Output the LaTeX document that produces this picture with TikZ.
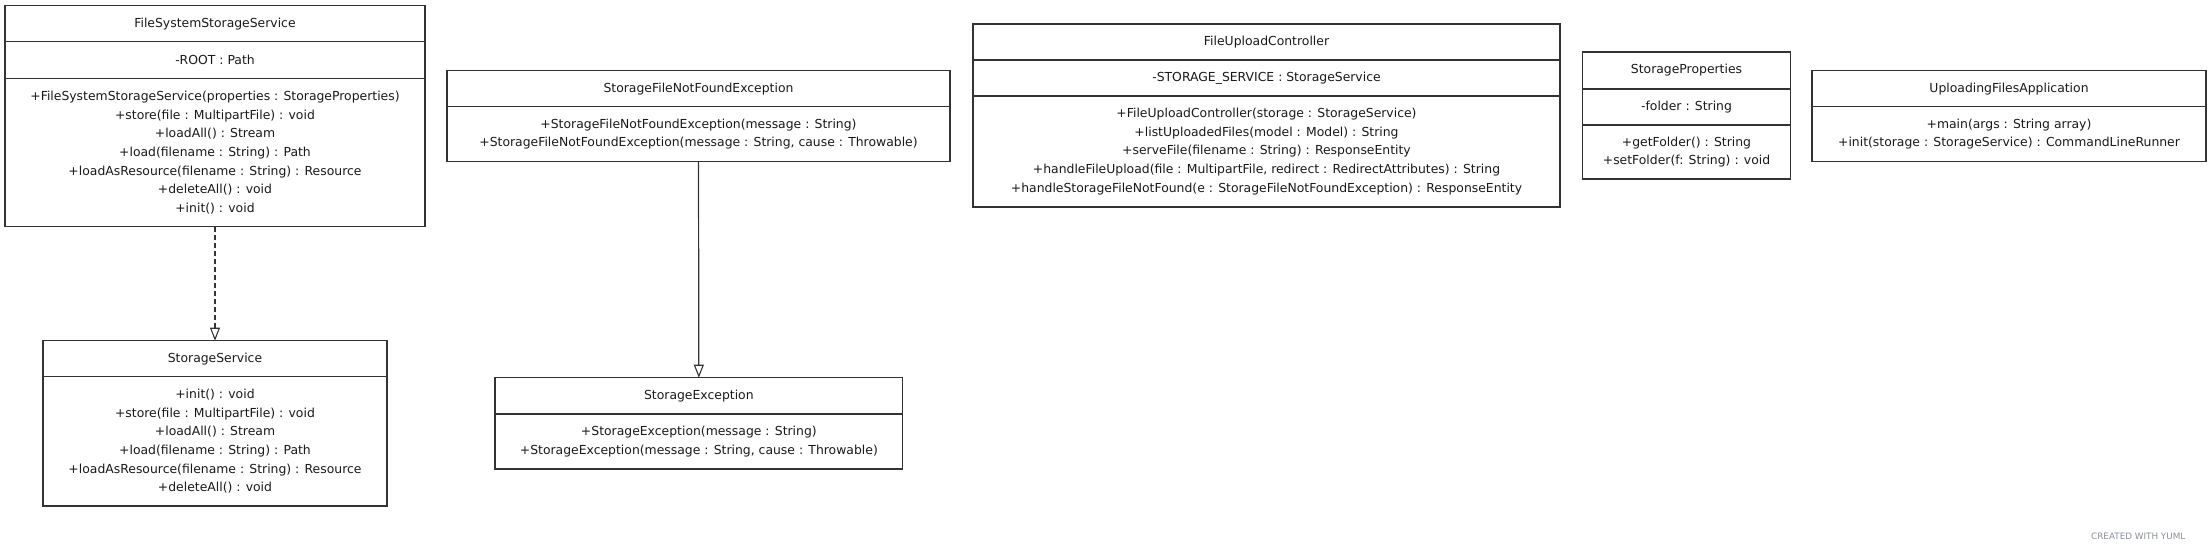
\documentclass[tikz,border=0pt]{standalone}
\usepackage{fontspec}
\setmainfont{DejaVu Sans}
\usetikzlibrary{arrows.meta}
\definecolor{linec}{HTML}{333333}
\definecolor{textc}{HTML}{1A1A1A}
\definecolor{markc}{HTML}{8A8F99}
\tikzset{
  comp/.style={draw=linec, line width=1.3pt, anchor=north west, inner sep=0pt, outer sep=0pt,
    align=center, text=textc, font=\fontsize{12.4}{18.67}\selectfont},
  gen/.style={draw=linec, line width=1.2pt, -{Triangle[open, length=13pt, width=10pt, line width=1.1pt]}},
  real/.style={gen, dash pattern=on 5pt off 3pt}
}
\begin{document}
\begin{tikzpicture}[x=1pt, y=-1pt]
\useasboundingbox[fill=white] (0,0) rectangle (2211,550);
% FileSystemStorageService
\node[comp, minimum width=420pt, minimum height=36pt] (fssT) at (5,5.7) {FileSystemStorageService};
\node[comp, minimum width=420pt, minimum height=36.6pt] (fssA) at (5,41.7) {-ROOT : Path};
\node[comp, minimum width=420pt, minimum height=148.4pt] (fssM) at (5,78.3) {+FileSystemStorageService(properties : StorageProperties)\\+store(file : MultipartFile) : void\\+loadAll() : Stream\\+load(filename : String) : Path\\+loadAsResource(filename : String) : Resource\\+deleteAll() : void\\+init() : void};
% StorageService
\node[comp, minimum width=344pt, minimum height=36pt] (ssT) at (43,340.7) {StorageService};
\node[comp, minimum width=344pt, minimum height=129.3pt] (ssM) at (43,376.7) {+init() : void\\+store(file : MultipartFile) : void\\+loadAll() : Stream\\+load(filename : String) : Path\\+loadAsResource(filename : String) : Resource\\+deleteAll() : void};
% StorageFileNotFoundException
\node[comp, minimum width=503pt, minimum height=36pt] (sfT) at (447,70.7) {StorageFileNotFoundException};
\node[comp, minimum width=503pt, minimum height=55pt] (sfM) at (447,106.7) {+StorageFileNotFoundException(message : String)\\+StorageFileNotFoundException(message : String, cause : Throwable)};
% StorageException
\node[comp, minimum width=407.7pt, minimum height=36.3pt] (seT) at (495,377.7) {StorageException};
\node[comp, minimum width=407.7pt, minimum height=55pt] (seM) at (495,414) {+StorageException(message : String)\\+StorageException(message : String, cause : Throwable)};
% FileUploadController
\node[comp, minimum width=587pt, minimum height=36pt] (fuT) at (973,24) {FileUploadController};
\node[comp, minimum width=587pt, minimum height=36pt] (fuA) at (973,60) {-STORAGE\_SERVICE : StorageService};
\node[comp, minimum width=587pt, minimum height=111pt] (fuM) at (973,96) {+FileUploadController(storage : StorageService)\\+listUploadedFiles(model : Model) : String\\+serveFile(filename : String) : ResponseEntity\\+handleFileUpload(file : MultipartFile, redirect : RedirectAttributes) : String\\+handleStorageFileNotFound(e : StorageFileNotFoundException) : ResponseEntity};
% StorageProperties
\node[comp, minimum width=208pt, minimum height=37pt] (spT) at (1582.5,52) {StorageProperties};
\node[comp, minimum width=208pt, minimum height=36pt] (spA) at (1582.5,89) {-folder : String};
\node[comp, minimum width=208pt, minimum height=54pt] (spM) at (1582.5,125) {+getFolder() : String\\+setFolder(f: String) : void};
% UploadingFilesApplication
\node[comp, minimum width=394pt, minimum height=36pt] (ufT) at (1812,70.7) {UploadingFilesApplication};
\node[comp, minimum width=394pt, minimum height=55pt] (ufM) at (1812,106.7) {+main(args : String array)\\+init(storage : StorageService) : CommandLineRunner};
% connectors
\draw[real] (fssM.south) -- (ssT.north);
\draw[gen] (sfM.south) -- (seT.north);
% watermark
\node[anchor=west, inner sep=0pt, text=markc, font=\fontsize{8.8}{10}\selectfont] (mark) at (2091,536) {CREATED WITH YUML};
\end{tikzpicture}
\end{document}
